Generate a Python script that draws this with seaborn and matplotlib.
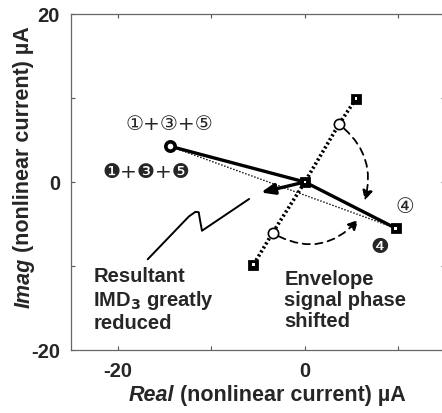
import numpy as np
import pandas as pd
import matplotlib
matplotlib.use("Agg")
import matplotlib.pyplot as plt
import seaborn as sns
from matplotlib.patches import FancyArrowPatch

# ---- data (µA) ----
sum135 = (-14.4, 4.25)          # ①+③+⑤ vector tip
term4 = (9.7, -5.5)             # ④ vector tip
phase_x = [5.45, 3.64, 0.0, -3.46, -5.5]     # envelope phase line
phase_y = [9.9, 6.87, 0.0, -6.07, -9.85]
phase_kind = ["sq", "ci", "sq", "ci", "sq"]
arc1_start, arc1_end = (3.64, 6.87), (6.4, -2.2)
arc2_start, arc2_end = (-3.46, -6.07), (5.7, -4.49)
squiggle_x = [-16.8, -12.4, -11.7, -11.35, -11.2, -11.0, -5.96]
squiggle_y = [-9.2, -4.1, -3.55, -3.6, -4.6, -5.8, -2.02]
xticks = [-20, 0]
yticks = [-20, 0, 20]

resultant = (sum135[0] + term4[0], sum135[1] + term4[1])

sns.set_style("ticks")
plt.rcParams["font.family"] = ["Liberation Sans", "DejaVu Sans"]
plt.rcParams["axes.unicode_minus"] = False

fig = plt.figure(figsize=(4.42, 4.14), dpi=100)
ax = fig.add_axes([71/442, 63/414, 374.25/442, 336/414])
ax.set_xlim(-25, 15)
ax.set_ylim(-20, 20)

# thin dotted line from sum135 to term4
ln = pd.DataFrame({"x": [sum135[0], term4[0]], "y": [sum135[1], term4[1]]})
sns.lineplot(data=ln, x="x", y="y", sort=False, ax=ax, color="black",
             lw=1.0, linestyle=(0, (1, 1.3)), zorder=2)

# thick dotted phase line
ph = pd.DataFrame({"x": phase_x, "y": phase_y, "kind": phase_kind})
sns.lineplot(data=ph, x="x", y="y", sort=False, ax=ax, color="black",
             lw=2.6, linestyle=(0, (0.6, 0.7)), zorder=2)

# thick solid vectors
vec = pd.DataFrame({"x": [sum135[0], 0, term4[0]], "y": [sum135[1], 0, term4[1]]})
sns.lineplot(data=vec, x="x", y="y", sort=False, ax=ax, color="black",
             lw=2.4, zorder=3)

# resultant arrow
ax.annotate("", xy=resultant, xytext=(0, 0),
            arrowprops=dict(arrowstyle="-|>,head_length=0.8,head_width=0.32",
                            lw=2.4, color="black", shrinkA=0, shrinkB=0),
            zorder=4)

# markers
sq = ph[ph.kind == "sq"]
ci = ph[ph.kind == "ci"]
sns.scatterplot(x=list(sq.x) + [term4[0]], y=list(sq.y) + [term4[1]], ax=ax,
                marker="s", s=50, color="black", edgecolor="black", zorder=5)
sns.scatterplot(x=list(sq.x) + [term4[0]], y=list(sq.y) + [term4[1]], ax=ax,
                marker="s", s=4, color="white", edgecolor="none", zorder=6)
sns.scatterplot(x=ci.x, y=ci.y, ax=ax, marker="o", s=55, color="white",
                edgecolor="black", linewidth=1.2, zorder=5)
sns.scatterplot(x=[sum135[0]], y=[sum135[1]], ax=ax, marker="o", s=45,
                color="white", edgecolor="black", linewidth=2.6, zorder=5)

# dashed arcs with arrowheads
for st, en, rad in [(arc1_start, arc1_end, -0.33), (arc2_start, arc2_end, 0.4)]:
    p = FancyArrowPatch(st, en, connectionstyle=f"arc3,rad={rad}",
                        arrowstyle="-|>,head_length=6,head_width=3",
                        linestyle=(0, (4, 3)), lw=1.3, color="black",
                        shrinkA=5, shrinkB=0, zorder=4)
    ax.add_patch(p)

# squiggle pointer
ax.plot(squiggle_x, squiggle_y, color="black", lw=1.4, zorder=3)

# labels
cfont = ["DejaVu Sans"]
ax.text(-14.5, 7.0, "①+③+⑤", ha="center", va="center", fontsize=14.5,
        family=cfont)
ax.text(-16.9, 1.2, "❶+❸+❺", ha="center", va="center", fontsize=14.5,
        family=cfont)
ax.text(10.7, -2.9, "④", ha="center", va="center", fontsize=15, family=cfont)
ax.text(8.0, -7.65, "❹", ha="center", va="center", fontsize=15, family=cfont)

bold = dict(fontsize=14.5, fontweight="bold", va="top", ha="left",
            linespacing=1.15)
ax.text(-22.6, -10.0, "Resultant\nIMD$_\\mathbf{3}$ greatly\nreduced", **bold)
ax.text(-2.2, -10.3, "Envelope\nsignal phase\nshifted", **bold)

# axes styling
ax.set_xticks(xticks)
ax.set_yticks(yticks)
ax.set_xticks([-10, 10], minor=True)
ax.set_yticks([-10, 10], minor=True)
ax.tick_params(which="both", direction="in", top=True, right=True,
               length=3, width=0.8, color="#555555")
ax.tick_params(which="major", labelsize=14.5, pad=8)
for lab in ax.get_xticklabels() + ax.get_yticklabels():
    lab.set_fontweight("bold")
for s in ax.spines.values():
    s.set_color("#666666")
    s.set_linewidth(0.9)
ax.set_xlabel("")
ax.set_ylabel("")

# axis labels (italic part + regular bold part)
t1 = fig.text(0.29, 0.02, "Real", fontsize=15.5, fontweight="bold",
              style="italic", ha="left", va="bottom")
fig.canvas.draw()
ax.annotate(" (nonlinear current) µA", xy=(1, 0), xycoords=t1,
            fontsize=15.5, fontweight="bold", ha="left", va="bottom",
            annotation_clip=False)
t2 = fig.text(0.03, 0.255, "Imag", fontsize=15.5, fontweight="bold",
              style="italic", rotation=90, ha="left", va="bottom")
ax.annotate(" (nonlinear current) µA", xy=(0, 1), xycoords=t2,
            fontsize=15.5, fontweight="bold", rotation=90, ha="left",
            va="bottom", annotation_clip=False)

fig.savefig("out.png", dpi=100)
